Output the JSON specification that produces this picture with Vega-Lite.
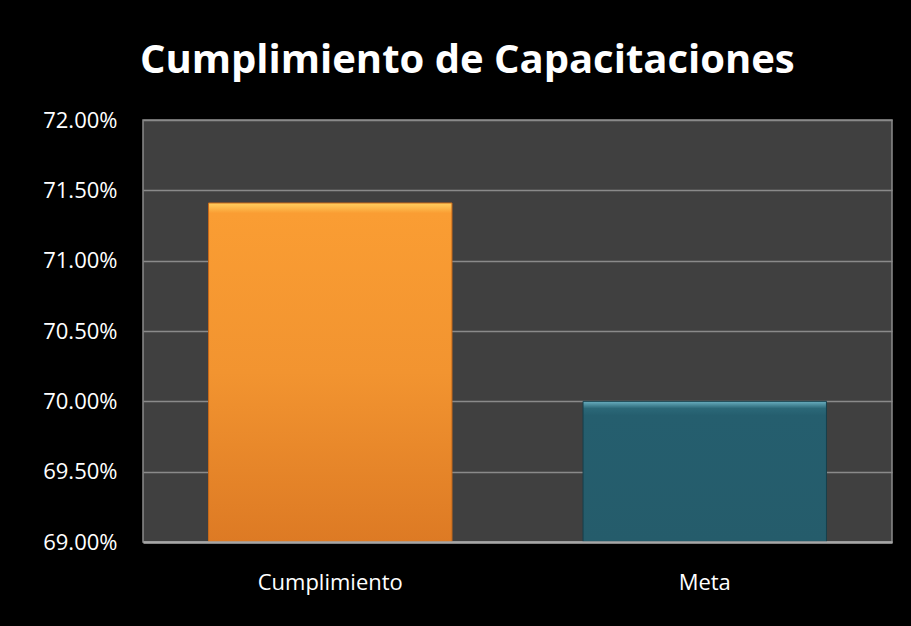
{
  "$schema": "https://vega.github.io/schema/vega-lite/v6.json",
  "autosize": {"type": "none"},
  "padding": {"left": 143, "top": 120, "right": 19, "bottom": 84},
  "width": 749,
  "height": 422,
  "background": "#000000",
  "title": {
    "text": "Cumplimiento de Capacitaciones",
    "font": "Open Sans",
    "fontSize": 40,
    "fontWeight": "bold",
    "color": "#ffffff",
    "anchor": "middle",
    "frame": "bounds",
    "offset": 28
  },
  "data": {
    "values": [
      {"categoria": "Cumplimiento", "valor": 0.7141},
      {"categoria": "Meta", "valor": 0.70}
    ]
  },
  "encoding": {
    "x": {
      "field": "categoria",
      "type": "nominal",
      "sort": null,
      "scale": {"paddingInner": 0.35, "paddingOuter": 0.175},
      "axis": {
        "title": null,
        "labelAngle": 0,
        "labelColor": "#ffffff",
        "labelFont": "Open Sans",
        "labelFontSize": 22,
        "labelPadding": 30,
        "ticks": false,
        "domain": true,
        "domainColor": "#A6A6A6",
        "domainWidth": 2.5,
        "grid": false,
        "zindex": 1
      }
    },
    "y": {
      "field": "valor",
      "type": "quantitative",
      "scale": {"domain": [0.69, 0.72], "zero": false, "nice": false},
      "axis": {
        "title": null,
        "format": ".2%",
        "values": [0.69, 0.695, 0.70, 0.705, 0.71, 0.715, 0.72],
        "labelColor": "#ffffff",
        "labelFont": "Open Sans",
        "labelFontSize": 22,
        "labelPadding": 26,
        "ticks": false,
        "domain": false,
        "grid": true,
        "gridColor": "#8a8a8a",
        "gridWidth": 1.5,
        "zindex": 0
      }
    },
    "y2": {"datum": 0.69}
  },
  "layer": [
    {
      "transform": [{"filter": "datum.categoria === 'Cumplimiento'"}],
      "mark": {
        "type": "bar",
        "stroke": "#C96A1A",
        "strokeWidth": 1,
        "color": {
          "gradient": "linear",
          "x1": 0, "y1": 0, "x2": 0, "y2": 1,
          "stops": [
            {"offset": 0, "color": "#FFD060"},
            {"offset": 0.03, "color": "#FA9D33"},
            {"offset": 0.5, "color": "#F29430"},
            {"offset": 1, "color": "#DD7A24"}
          ]
        }
      }
    },
    {
      "transform": [{"filter": "datum.categoria === 'Meta'"}],
      "mark": {
        "type": "bar",
        "stroke": "#163F4B",
        "strokeWidth": 1,
        "color": {
          "gradient": "linear",
          "x1": 0, "y1": 0, "x2": 0, "y2": 1,
          "stops": [
            {"offset": 0, "color": "#6AAFC0"},
            {"offset": 0.05, "color": "#2B6878"},
            {"offset": 0.1, "color": "#255E6E"},
            {"offset": 1, "color": "#255C6B"}
          ]
        }
      }
    }
  ],
  "config": {
    "view": {"fill": "#404040", "stroke": "#8a8a8a", "strokeWidth": 1.5}
  }
}
